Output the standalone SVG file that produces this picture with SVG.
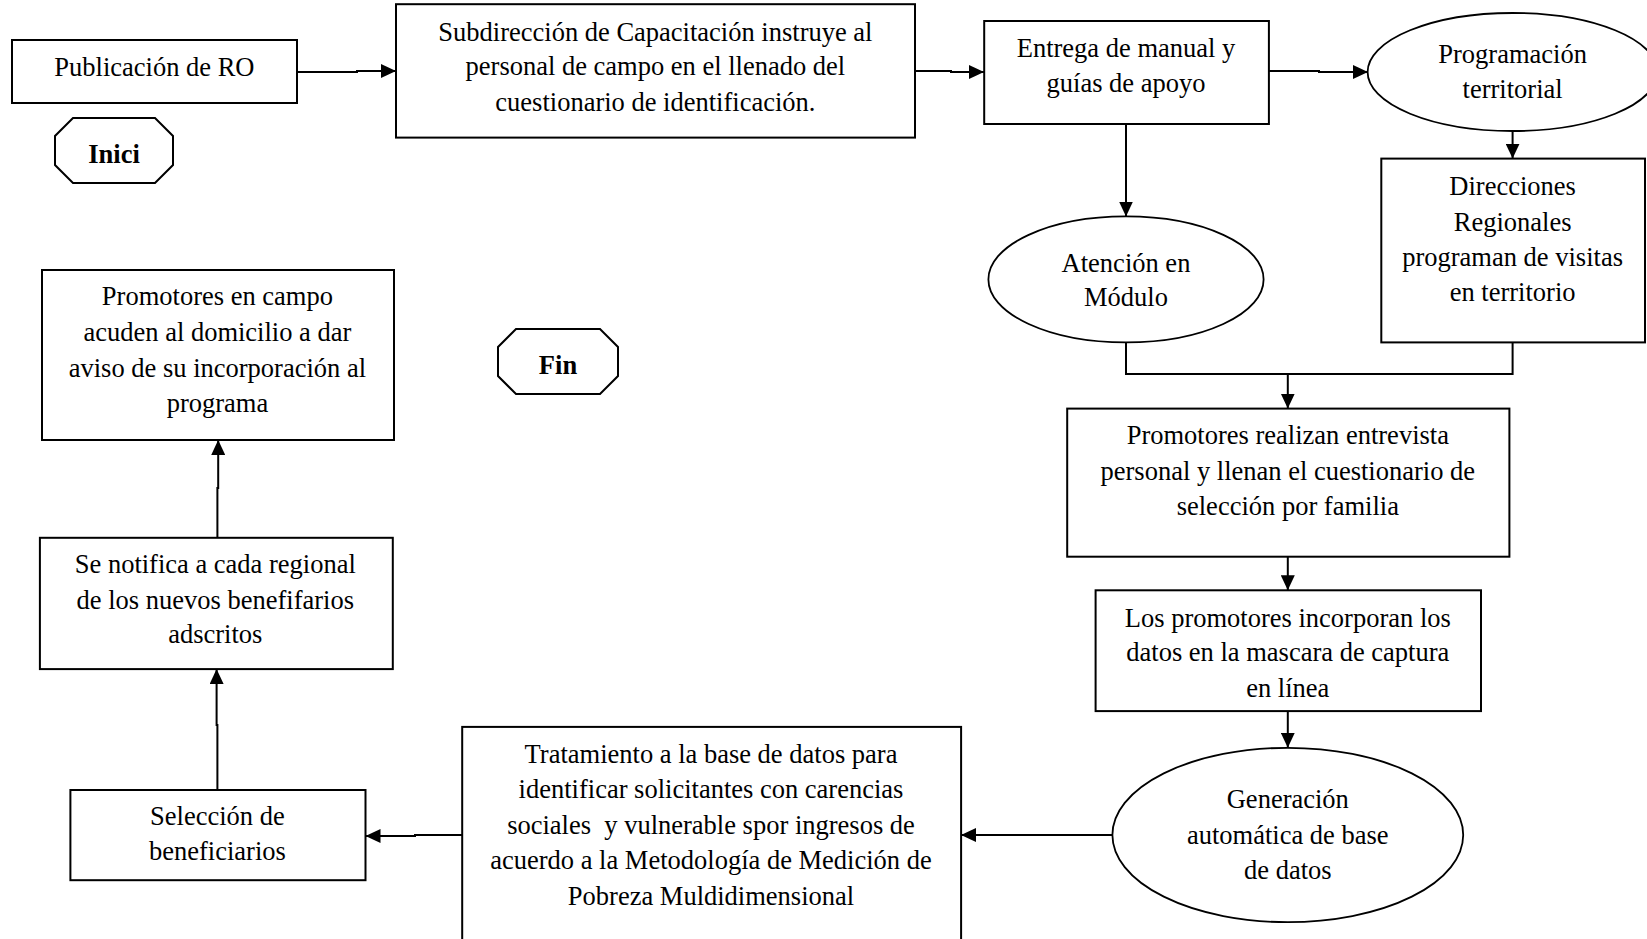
<svg xmlns="http://www.w3.org/2000/svg" width="1647" height="939" viewBox="0 0 1647 939">
<defs>
<marker id="ah" markerUnits="userSpaceOnUse" markerWidth="16" markerHeight="14" refX="15" refY="7" orient="auto">
<path d="M0,0 L15,7 L0,14 Z" fill="#000"/>
</marker>
<style>
.box{fill:#fff;stroke:#000;stroke-width:2}
.ell{fill:#fff;stroke:#000;stroke-width:1.8}
.t{font-family:"Liberation Serif","Times New Roman",serif;font-size:26.5px;fill:#000;text-anchor:middle}
.b{font-weight:bold}
.c{fill:none;stroke:#000;stroke-width:2}
.ca{fill:none;stroke:#000;stroke-width:2;marker-end:url(#ah)}
</style>
</defs>
<rect width="1647" height="939" fill="#fff"/>
<g id="connectors">
<path class="ca" d="M297,72 H357 V71 H396"/>
<path class="ca" d="M915,71 H951 V72 H984"/>
<path class="ca" d="M1269,71 H1319 V72 H1368"/>
<path class="ca" d="M1512.6,131 V158.6"/>
<path class="ca" d="M1126,124 V216.5"/>
<path class="c" d="M1126,342.4 V374 H1512.6 V342.4"/>
<path class="ca" d="M1287.8,374 V408.6"/>
<path class="ca" d="M1287.8,556.7 V590.3"/>
<path class="ca" d="M1287.8,711 V747.8"/>
<path class="ca" d="M1112.4,835 H961"/>
<path class="ca" d="M462,835 H415 V836 H365.5"/>
<path class="ca" d="M217.4,790 V725 H216.6 V669"/>
<path class="ca" d="M217.4,537.8 V488 H218.2 V440"/>
</g>
<g id="n-publicacion">
<rect class="box" x="12" y="40" width="285" height="63"/>
<text class="t" x="154.4" y="76">Publicación de RO</text>
</g>
<g id="n-inici">
<polygon class="box" points="73,118 155,118 173,136 173,165 155,183 73,183 55,165 55,136"/>
<text class="t b" x="114" y="163">Inici</text>
</g>
<g id="n-subdireccion">
<rect class="box" x="396" y="4.2" width="519" height="133.4"/>
<text class="t" x="655.4" y="40.5">Subdirección de Capacitación instruye al</text>
<text class="t" x="655.4" y="75">personal de campo en el llenado del</text>
<text class="t" x="655.4" y="110.5">cuestionario de identificación.</text>
</g>
<g id="n-entrega">
<rect class="box" x="984.2" y="21" width="284.7" height="103"/>
<text class="t" x="1126" y="57">Entrega de manual y</text>
<text class="t" x="1126" y="92">guías de apoyo</text>
</g>
<g id="n-programacion">
<ellipse class="ell" cx="1512.6" cy="72" rx="145" ry="59"/>
<text class="t" x="1512.6" y="62.5">Programación</text>
<text class="t" x="1512.6" y="98">territorial</text>
</g>
<g id="n-direcciones">
<rect class="box" x="1381.3" y="158.6" width="263.7" height="183.8"/>
<text class="t" x="1512.6" y="195">Direcciones</text>
<text class="t" x="1512.6" y="230.5">Regionales</text>
<text class="t" x="1512.6" y="266">programan de visitas</text>
<text class="t" x="1512.6" y="301">en territorio</text>
</g>
<g id="n-atencion">
<ellipse class="ell" cx="1126" cy="279.4" rx="137.6" ry="63"/>
<text class="t" x="1126" y="271.5">Atención en</text>
<text class="t" x="1126" y="306">Módulo</text>
</g>
<g id="n-promotores-campo">
<rect class="box" x="42" y="270" width="352" height="170"/>
<text class="t" x="217.4" y="305">Promotores en campo</text>
<text class="t" x="217.4" y="341">acuden al domicilio a dar</text>
<text class="t" x="217.4" y="376.5">aviso de su incorporación al</text>
<text class="t" x="217.4" y="412">programa</text>
</g>
<g id="n-fin">
<polygon class="box" points="516,329 600,329 618,347 618,376 600,394 516,394 498,376 498,347"/>
<text class="t b" x="558" y="373.5">Fin</text>
</g>
<g id="n-promotores-realizan">
<rect class="box" x="1067.2" y="408.6" width="442.2" height="148.1"/>
<text class="t" x="1287.8" y="444">Promotores realizan entrevista</text>
<text class="t" x="1287.8" y="479.5">personal y llenan el cuestionario de</text>
<text class="t" x="1287.8" y="515">selección por familia</text>
</g>
<g id="n-incorporan">
<rect class="box" x="1095.6" y="590.3" width="385.4" height="120.8"/>
<text class="t" x="1287.8" y="626.5">Los promotores incorporan los</text>
<text class="t" x="1287.8" y="661">datos en la mascara de captura</text>
<text class="t" x="1287.8" y="697">en línea</text>
</g>
<g id="n-generacion">
<ellipse class="ell" cx="1287.8" cy="835" rx="175.4" ry="87.2"/>
<text class="t" x="1287.8" y="808">Generación</text>
<text class="t" x="1287.8" y="844">automática de base</text>
<text class="t" x="1287.8" y="878.5">de datos</text>
</g>
<g id="n-tratamiento">
<rect class="box" x="462.2" y="726.9" width="498.9" height="230"/>
<text class="t" x="711" y="763">Tratamiento a la base de datos para</text>
<text class="t" x="711" y="798">identificar solicitantes con carencias</text>
<text class="t" x="711" y="833.5" xml:space="preserve">sociales  y vulnerable spor ingresos de</text>
<text class="t" x="711" y="869">acuerdo a la Metodología de Medición de</text>
<text class="t" x="711" y="905">Pobreza Muldidimensional</text>
</g>
<g id="n-seleccion">
<rect class="box" x="70.4" y="790" width="295.1" height="90.2"/>
<text class="t" x="217.4" y="825">Selección de</text>
<text class="t" x="217.4" y="860">beneficiarios</text>
</g>
<g id="n-notifica">
<rect class="box" x="39.9" y="537.8" width="352.9" height="131.3"/>
<text class="t" x="215.3" y="573">Se notifica a cada regional</text>
<text class="t" x="215.3" y="608.5">de los nuevos benefifarios</text>
<text class="t" x="215.3" y="643">adscritos</text>
</g>
</svg>
